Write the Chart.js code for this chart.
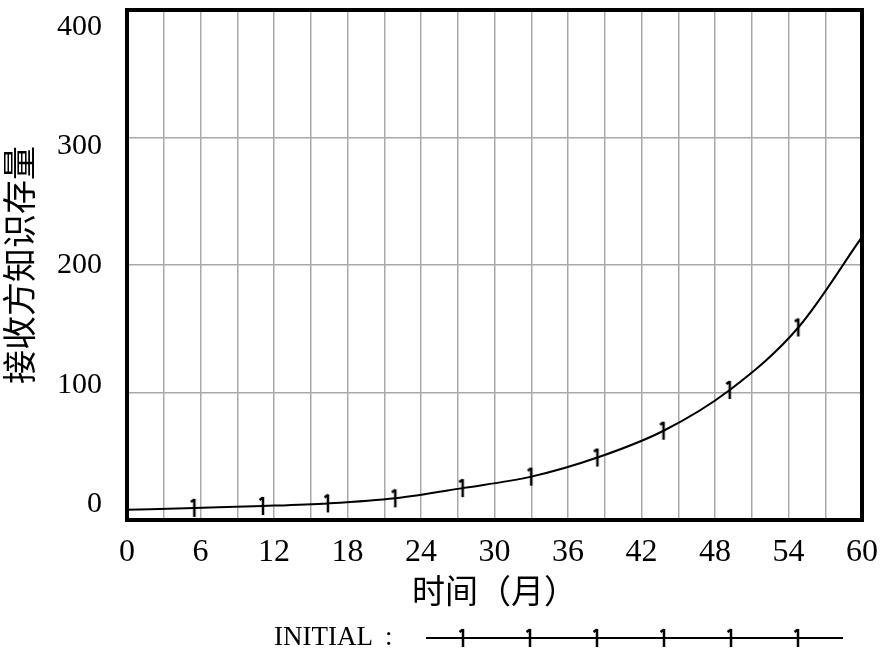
<!DOCTYPE html>
<html>
<head>
<meta charset="utf-8">
<script src="https://cdn.jsdelivr.net/npm/chart.js@4.4.1/dist/chart.umd.min.js"></script>
<style>
  html, body { margin: 0; padding: 0; background: #fff; }
  #wrap { width: 886px; height: 667px; position: relative; }
</style>
</head>
<body>
<div id="wrap"><canvas id="stockChart"></canvas></div>
<script>
// months where the curve was read (marker spots plus the two ends)
const months = [0, 5.5, 11.1, 16.4, 21.9, 27.4, 33, 38.4, 43.8, 49.2, 54.8, 60];
const knowledgeStock = [8, 9.5, 11, 13, 17, 25, 34, 49, 70, 102, 151, 222];
const xTickLabels = ['0', '6', '12', '18', '24', '30', '36', '42', '48', '54', '60'];
const yTickLabels = ['0', '100', '200', '300', '400'];
const seriesName = 'INITIAL：';

// Vensim style "1" marker
function makeMarker() {
    const c = document.createElement('canvas');
    c.width = 12; c.height = 20;
    const g = c.getContext('2d');
    g.strokeStyle = '#000';
    g.lineWidth = 2.5;
    g.beginPath();
    g.moveTo(6, 1); g.lineTo(6, 19);
    g.moveTo(6, 1.5); g.lineTo(2.5, 4);
    g.stroke();
    return c;
}
const marker = makeMarker();

const frame = {
    id: 'frame',
    afterDatasetsDraw(chart) {
        const { ctx, chartArea: a } = chart;
        ctx.save();
        ctx.strokeStyle = '#000';
        ctx.lineWidth = 4;
        ctx.strokeRect(a.left, a.top, a.right - a.left, a.bottom - a.top);
        ctx.restore();
    },
    afterDraw(chart) {
        // legend row under the axis title
        const ctx = chart.ctx;
        const y = 638;
        ctx.save();
        ctx.fillStyle = '#000';
        ctx.font = '27px "Liberation Serif", serif';
        ctx.textBaseline = 'middle';
        ctx.fillText('INITIAL', 274, y);
        ctx.fillText(':', 385, y);
        ctx.strokeStyle = '#000';
        ctx.lineWidth = 2;
        ctx.beginPath();
        ctx.moveTo(426, y); ctx.lineTo(843, y);
        ctx.stroke();
        for (let i = 0; i < 6; i++) {
            ctx.drawImage(marker, 463 + 67 * i - 6, y - 10);
        }
        ctx.restore();
    }
};

const tickFont = { family: '"Liberation Serif", serif', size: 30 };

const ctx = document.getElementById('stockChart').getContext('2d');
new Chart(ctx, {
    type: 'line',
    data: {
        datasets: [{
            label: seriesName,
            data: months.map((m, i) => ({ x: m, y: knowledgeStock[i] })),
            borderColor: '#000',
            borderWidth: 2,
            cubicInterpolationMode: 'monotone',
            pointStyle: marker,
            pointRadius: c => (c.dataIndex === 0 || c.dataIndex === months.length - 1) ? 0 : 8,
            pointHoverRadius: 0,
            fill: false
        }]
    },
    options: {
        responsive: true,
        maintainAspectRatio: false,
        animation: false,
        devicePixelRatio: 1,
        layout: { padding: { left: 0, top: 10, right: 24, bottom: 60 } },
        plugins: { legend: { display: false }, tooltip: { enabled: false } },
        scales: {
            x: {
                type: 'linear',
                min: 0,
                max: 60,
                afterFit: s => { s.height = 87; s.paddingRight = 0; s.paddingLeft = 0; },
                ticks: {
                    stepSize: 3,
                    autoSkip: false,
                    maxRotation: 0,
                    padding: 13,
                    color: '#000',
                    font: { family: '"Liberation Serif", serif', size: 32 },
                    callback: v => v % 6 === 0 ? xTickLabels[v / 6] : ''
                },
                grid: { color: '#a9a9a9', lineWidth: 1.5, drawTicks: false },
                border: { color: '#000', width: 4 },
                title: {
                    display: true,
                    text: '时间（月）',
                    color: '#000',
                    font: { family: '"Noto Sans CJK SC", sans-serif', size: 33, lineHeight: 1 },
                    padding: { top: 0, bottom: 0 }
                }
            },
            // grid + left border
            y: {
                min: 0,
                max: 400,
                weight: 0,
                afterFit: s => { s.width = 0; s.paddingTop = 0; s.paddingBottom = 0; },
                ticks: { stepSize: 100, display: false },
                grid: { color: '#a9a9a9', lineWidth: 1.5, drawTicks: false },
                border: { color: '#000', width: 4 }
            },
            // labels sit a little inside the frame in the original, spread 27..504 px
            yLabels: {
                position: 'left',
                weight: 1,
                min: -13.4,
                max: 414.3,
                afterFit: s => { s.width = 127; s.paddingTop = 0; s.paddingBottom = 0; },
                ticks: {
                    stepSize: 100,
                    includeBounds: false,
                    padding: 25,
                    color: '#000',
                    font: tickFont,
                    callback: v => yTickLabels[v / 100]
                },
                grid: { display: false, drawTicks: false },
                border: { display: false },
                title: {
                    display: true,
                    text: '接收方知识存量',
                    color: '#000',
                    font: { family: '"Noto Sans CJK SC", sans-serif', size: 34, lineHeight: 1 },
                    padding: { top: 2, bottom: 0 }
                }
            }
        }
    },
    plugins: [frame]
});
</script>
</body>
</html>
